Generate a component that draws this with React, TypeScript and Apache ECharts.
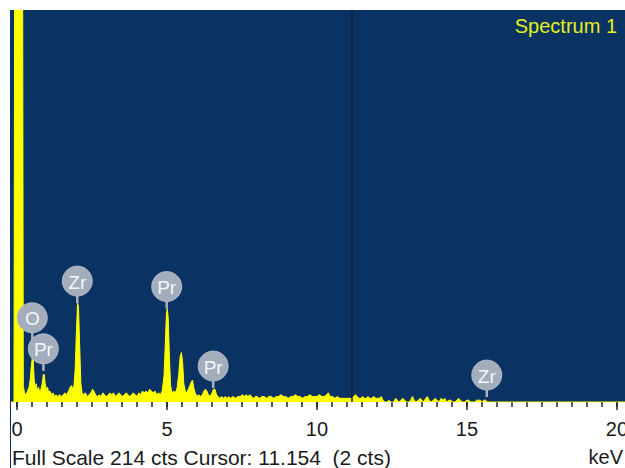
import React, { useEffect, useRef } from "react";
import * as echarts from "echarts";

// Spectrum: energy (keV) and counts
const energyKeV = [
  -0.23, -0.1, -0.08, 0.19, 0.21, 0.25, 0.3, 0.35, 0.4, 0.44, 0.48, 0.51, 0.54, 0.57, 0.6, 0.64, 0.68, 0.72, 0.76, 0.8,
  0.84, 0.88, 0.91, 0.94, 0.98, 1.02, 1.06, 1.1, 1.15, 1.2, 1.25, 1.3, 1.36, 1.42, 1.48, 1.54, 1.6, 1.66, 1.72, 1.77,
  1.82, 1.86, 1.9, 1.94, 1.98, 2.02, 2.05, 2.09, 2.13, 2.17, 2.22, 2.28, 2.34, 2.4, 2.46, 2.52, 2.56, 2.62, 2.68, 2.74,
  2.8, 2.86, 2.92, 2.98, 3.04, 3.1, 3.16, 3.22, 3.28, 3.34, 3.4, 3.46, 3.52, 3.58, 3.64, 3.7, 3.76, 3.82, 3.88, 3.94,
  4.0, 4.06, 4.12, 4.18, 4.24, 4.3, 4.36, 4.42, 4.48, 4.54, 4.6, 4.66, 4.72, 4.78, 4.84, 4.9, 4.94, 4.98, 5.01, 5.04,
  5.08, 5.12, 5.17, 5.22, 5.28, 5.34, 5.39, 5.44, 5.48, 5.52, 5.56, 5.61, 5.66, 5.71, 5.76, 5.81, 5.85, 5.89, 5.94, 6.0,
  6.06, 6.12, 6.18, 6.23, 6.28, 6.33, 6.38, 6.44, 6.5, 6.55, 6.6, 6.65, 6.7, 6.76, 6.82, 6.88, 6.94, 7.0, 7.06, 7.12,
  7.2, 7.28, 7.36, 7.44, 7.52, 7.58, 7.64, 7.7, 7.76, 7.82, 7.88, 7.94, 8.0, 8.08, 8.16, 8.24, 8.32, 8.4, 8.48, 8.56,
  8.64, 8.72, 8.8, 8.88, 8.96, 9.04, 9.12, 9.2, 9.28, 9.36, 9.44, 9.52, 9.6, 9.68, 9.76, 9.84, 9.92, 10.0, 10.08, 10.16,
  10.24, 10.32, 10.38, 10.44, 10.52, 10.6, 10.68, 10.76, 10.84, 10.92, 11.0, 11.08, 11.16, 11.22, 11.28, 11.34, 11.4, 11.46, 11.52, 11.58,
  11.64, 11.7, 11.76, 11.82, 11.9, 11.96, 12.02, 12.08, 12.14, 12.2, 12.26, 12.34, 12.4, 12.46, 12.56, 12.62, 12.68, 12.74, 12.8, 12.86,
  12.92, 12.98, 13.06, 13.12, 13.18, 13.24, 13.3, 13.38, 13.44, 13.5, 13.56, 13.62, 13.68, 13.74, 13.8, 13.88, 13.94, 14.0, 14.06, 14.14,
  14.2, 14.26, 14.32, 14.4, 14.46, 14.52, 14.6, 14.66, 14.72, 14.78, 14.84, 14.92, 15.0, 15.06, 15.12, 15.26, 15.32, 15.38, 15.44, 15.5,
  15.56, 15.62, 15.68, 16.0, 20.27,
];
const counts = [
  0, 0, 214, 214, 9, 5, 4, 6, 8, 12, 20, 24, 23, 13, 8, 10, 6, 8, 5, 7,
  10, 15, 15, 10, 7, 8, 5, 6, 4, 5, 3, 4, 3, 4, 3, 4, 5, 4, 6, 8,
  9, 7, 9, 18, 38, 54, 52, 30, 10, 5, 4, 5, 3, 4, 5, 7, 6, 4, 3, 4,
  3, 5, 4, 3, 4, 5, 4, 5, 3, 4, 5, 4, 3, 4, 5, 4, 3, 4, 5, 4,
  3, 5, 4, 6, 5, 6, 5, 7, 6, 5, 6, 4, 5, 4, 6, 14, 30, 48, 51, 46,
  25, 9, 5, 6, 5, 8, 15, 25, 27, 22, 10, 6, 5, 7, 9, 11, 12, 8, 5, 3,
  4, 3, 4, 6, 7, 6, 4, 3, 5, 7, 7, 4, 3, 2, 3, 2, 3, 2, 3, 2,
  3, 2, 3, 3, 4, 3, 4, 3, 4, 3, 2, 3, 3, 2, 3, 3, 2, 3, 3, 2,
  3, 3, 4, 3, 3, 2, 3, 3, 4, 3, 3, 2, 3, 3, 4, 3, 3, 3, 4, 3,
  3, 4, 5, 3, 3, 2, 3, 2, 2, 2, 2, 2, 2, 3, 4, 3, 2, 2, 3, 2,
  2, 3, 2, 2, 3, 2, 2, 2, 3, 1, 0, 0, 1, 0, 0, 2, 1, 0, 1, 2,
  1, 0, 0, 1, 3, 1, 0, 1, 2, 1, 0, 2, 3, 1, 0, 1, 2, 1, 0, 2,
  1, 2, 0, 1, 1, 0, 0, 1, 2, 1, 0, 0, 1, 1, 0, 0, 1, 1, 1, 0,
  1, 1, 0, 0, 0,
];

// Element labels (stem tip position in keV / counts)
const peakNames = ["O", "Pr", "Zr", "Pr", "Pr", "Zr"];
const peakKeV = [0.51, 0.88, 2.01, 4.99, 6.54, 15.66];
const peakCts = [34, 17, 54, 51, 7.6, 2.7];

const tickValues = [
  0, 0.5, 1, 1.5, 2, 2.5, 3, 3.5, 4, 4.5, 5, 5.5, 6, 6.5, 7, 7.5, 8, 8.5, 9, 9.5,
  10, 10.5, 11, 11.5, 12, 12.5, 13, 13.5, 14, 14.5, 15, 15.5, 16, 16.5, 17, 17.5, 18, 18.5, 19, 19.5, 20,
];
const xTickLabels = [0, 5, 10, 15, 20];
const fullScale = 214;
const cursorKeV = 11.154;
const spectrumTitle = "Spectrum 1";
const statusText = "Full Scale 214 cts Cursor: 11.154  (2 cts)";
const unitText = "keV";

const NAVY = "#0a3363";
const YELLOW = "#ffff00";
const FONT = '"Liberation Sans", Arial, sans-serif';

export default function App() {
  const ref = useRef<HTMLDivElement>(null);

  useEffect(() => {
    document.body.style.margin = "0";
    if (!ref.current) return;
    const chart = echarts.init(ref.current, undefined, { renderer: "svg" });
    const spectrum = energyKeV.map((e, i) => [e, counts[i]]);
    const labels = peakKeV.map((e, i) => [e, peakCts[i]]);
    const xMin = -0.233;
    const xMax = 20.267;

    chart.setOption({
      animation: false,
      backgroundColor: "#ffffff",
      grid: {
        left: 10,
        top: 10,
        right: 0,
        bottom: 66,
        show: true,
        backgroundColor: NAVY,
        borderWidth: 0,
        containLabel: false,
        outerBoundsMode: "none",
      },
      xAxis: [
        {
          type: "value",
          min: xMin,
          max: xMax,
          position: "bottom",
          axisLine: { show: false },
          splitLine: { show: false },
          axisTick: {
            show: true,
            customValues: tickValues,
            length: 5,
            lineStyle: { color: "#222", width: 1.5 },
          },
          axisLabel: {
            show: true,
            customValues: xTickLabels,
            fontSize: 20,
            fontFamily: FONT,
            color: "#1a1a1a",
            margin: 17,
            hideOverlap: false,
          },
        },
        {
          type: "value",
          min: xMin,
          max: xMax,
          position: "bottom",
          axisLine: { show: false },
          splitLine: { show: false },
          axisTick: {
            show: true,
            customValues: xTickLabels,
            length: 8,
            lineStyle: { color: "#222", width: 1.5 },
          },
          axisLabel: { show: false },
        },
      ],
      yAxis: {
        type: "value",
        min: 0,
        max: fullScale,
        show: false,
        splitLine: { show: false },
      },
      series: [
        {
          type: "line",
          xAxisIndex: 0,
          data: spectrum,
          showSymbol: false,
          symbol: "none",
          clip: true,
          lineStyle: { color: YELLOW, width: 1 },
          areaStyle: { color: YELLOW, opacity: 1 },
          silent: true,
          z: 2,
          markLine: {
            silent: true,
            symbol: ["none", "none"],
            label: { show: false },
            lineStyle: { color: "#1c2030", width: 1.5, type: "solid" },
            data: [{ xAxis: cursorKeV }],
          },
        },
        {
          type: "custom",
          xAxisIndex: 0,
          data: labels,
          silent: true,
          z: 5,
          clip: false,
          renderItem: (params: any, api: any) => {
            const p = api.coord([api.value(0), api.value(1)]);
            const cy = p[1] - 22;
            return {
              type: "group",
              children: [
                {
                  type: "line",
                  shape: { x1: p[0], y1: p[1], x2: p[0], y2: cy + 10 },
                  style: { stroke: "#a9b2c0", lineWidth: 2.5 },
                },
                {
                  type: "circle",
                  shape: { cx: p[0], cy: cy, r: 15 },
                  style: { fill: "#a3adbb", stroke: "#b2bac6", lineWidth: 1 },
                },
                {
                  type: "text",
                  style: {
                    text: peakNames[params.dataIndex],
                    x: p[0],
                    y: cy + 1,
                    align: "center",
                    verticalAlign: "middle",
                    fill: "#f4f7fb",
                    fontSize: 19,
                    fontFamily: FONT,
                  },
                },
              ],
            };
          },
        },
      ],
      graphic: [
        {
          type: "line",
          shape: { x1: 10.5, y1: 10, x2: 10.5, y2: 468 },
          style: { stroke: NAVY, lineWidth: 1 },
          z: 10,
        },
        {
          type: "text",
          style: {
            text: spectrumTitle,
            x: 617,
            y: 26,
            align: "right",
            verticalAlign: "middle",
            fill: "#e6ee1c",
            fontSize: 20,
            fontFamily: FONT,
          },
          z: 10,
        },
        {
          type: "text",
          style: {
            text: statusText,
            x: 12,
            y: 457,
            align: "left",
            verticalAlign: "middle",
            fill: "#1a1a1a",
            fontSize: 21,
            fontFamily: FONT,
          },
          z: 10,
        },
        {
          type: "text",
          style: {
            text: unitText,
            x: 623,
            y: 457,
            align: "right",
            verticalAlign: "middle",
            fill: "#1a1a1a",
            fontSize: 20,
            fontFamily: FONT,
          },
          z: 10,
        },
      ],
    });

    return () => chart.dispose();
  }, []);

  return (
    <div
      ref={ref}
      style={{ position: "absolute", left: 0, top: 0, width: 625, height: 468 }}
    />
  );
}
